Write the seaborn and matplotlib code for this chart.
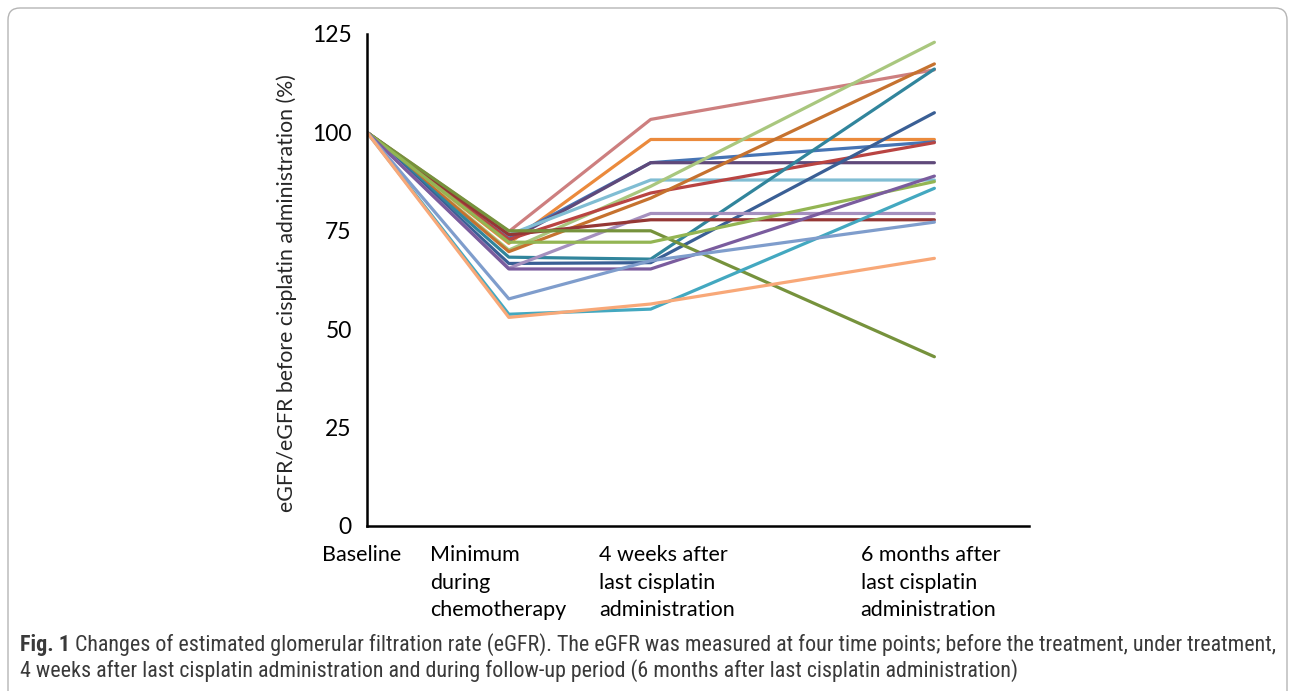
import numpy as np
import pandas as pd
import matplotlib
matplotlib.use('Agg')
import matplotlib.pyplot as plt
import seaborn as sns
from matplotlib import font_manager
from matplotlib.patches import FancyBboxPatch
from matplotlib.transforms import IdentityTransform, ScaledTranslation

# time points - 6 months point sits further right, like in the paper figure
time_labels = ['Baseline',
               'Minimum\nduring\nchemotherapy',
               '4 weeks after\nlast cisplatin\nadministration',
               '6 months after\nlast cisplatin\nadministration']
x_pos = [0, 1, 2, 4]

patients = ['P1', 'P2', 'P3', 'P4', 'P5', 'P6', 'P7', 'P8', 'P9',
            'P10', 'P11', 'P12', 'P13', 'P14', 'P15', 'P16', 'P17', 'P18']

# eGFR / eGFR before cisplatin (%)
baseline   = [100, 100, 100, 100, 100, 100, 100, 100, 100,
              100, 100, 100, 100, 100, 100, 100, 100, 100]
minimum    = [74.8, 71.8, 73.1, 72.5, 74.0, 70.1, 72.8, 69.7, 68.3,
              66.7, 65.5, 74.0, 75.0, 72.1, 65.3, 53.8, 57.7, 53.0]
four_weeks = [103.3, 98.2, 92.3, 92.3, 87.9, 86.3, 84.6, 83.3, 67.8,
              66.9, 79.4, 77.8, 75.0, 72.1, 65.3, 55.1, 67.4, 56.4]
six_months = [115.9, 98.2, 97.6, 92.3, 87.9, 122.9, 97.4, 117.4, 116.1,
              105.0, 79.4, 77.8, 43.0, 87.5, 88.9, 85.8, 77.2, 68.0]

line_colors = ['#CD7F7F', '#EB8A3C', '#4674B4', '#5F497A', '#80BDD3', '#A9C77E',
               '#B94442', '#C6722F', '#31859C', '#3A5F95', '#A590BE', '#953735',
               '#76923C', '#93B553', '#7A5C9E', '#43A8C0', '#7F9DCC', '#F8A878']

# long format for seaborn
rows = []
for i, p in enumerate(patients):
    for x, v in zip(x_pos, [baseline[i], minimum[i], four_weeks[i], six_months[i]]):
        rows.append({'patient': p, 'x': x, 'egfr': v})
df = pd.DataFrame(rows)

sns.set_style('white')
plt.rcParams['font.family'] = ['Lato', 'DejaVu Sans']

fig = plt.figure(figsize=(12.9, 6.91), dpi=100)
ax = fig.add_axes([0.2845, 0.2388, 0.5135, 0.712])

sns.lineplot(data=df, x='x', y='egfr', hue='patient', palette=line_colors,
             estimator=None, sort=False, legend=False, linewidth=2.3, ax=ax)

ax.set_xlim(0, 4.67)
ax.set_ylim(0, 125)
ax.set_yticks([0, 25, 50, 75, 100, 125])
ax.set_xticks(x_pos, time_labels)
ax.set_xlabel('')
ax.set_ylabel('eGFR/eGFR before cisplatin administration (%)', fontsize=15.3)
ax.yaxis.label.set_va('center')
ax.yaxis.set_label_coords(-0.121, 0.474)

for side in ['top', 'right']:
    ax.spines[side].set_visible(False)
for side in ['left', 'bottom']:
    ax.spines[side].set_color('black')
    ax.spines[side].set_linewidth(1.8)
ax.tick_params(axis='both', direction='out', length=5, width=1.8, color='black',
               labelcolor='black')
ax.tick_params(axis='x', pad=9, labelsize=15.5)
ax.tick_params(axis='y', pad=6, labelsize=16.5)

# excel wraps the category labels a bit off-centre, nudge them (px)
nudge = [-5, -11, 16, -4]
for t, dx in zip(ax.get_xticklabels(), nudge):
    t.set_multialignment('left')
    t.set_linespacing(1.45)
    t.set_transform(t.get_transform() + ScaledTranslation(dx / 100, 0, fig.dpi_scale_trans))

# caption below the chart, narrow font squeezed to the same width as the paper
names = {f.name for f in font_manager.fontManager.ttflist}
cap_font = 'DejaVu Sans'
for cand in ['Liberation Sans Narrow', 'Roboto Condensed', 'Open Sans Condensed', 'Roboto']:
    if cand in names:
        cap_font = cand
        break
cap_col = '#3a3a3a'
line1 = ('Changes of estimated glomerular filtration rate (eGFR). The eGFR was measured at four '
         'time points; before the treatment, under treatment,')
line2 = ('4 weeks after last cisplatin administration and during follow-up period '
         '(6 months after last cisplatin administration)')

cap_size = 17
renderer = fig.canvas.get_renderer()
while True:
    bold = fig.text(20 / 1290, 1 - 645 / 691, 'Fig. 1', fontsize=cap_size, fontweight='bold',
                    family=cap_font, color=cap_col, va='center', ha='left')
    bb = bold.get_window_extent(renderer)
    rest = fig.text((bb.x1 + 5) / 1290, 1 - 645 / 691, line1, fontsize=cap_size,
                    family=cap_font, color=cap_col, va='center', ha='left')
    if rest.get_window_extent(renderer).x1 <= 1278 or cap_size < 8:
        break
    bold.remove()
    rest.remove()
    cap_size -= 0.2
fig.text(20 / 1290, 1 - 671 / 691, line2, fontsize=cap_size, family=cap_font,
         color=cap_col, va='center', ha='left')

# rounded frame around the whole figure
frame = FancyBboxPatch((8, -20), 1279, 703, boxstyle='round,pad=0,rounding_size=12',
                       transform=IdentityTransform(), fill=False, ec='#b5b5b5', lw=1)
fig.patches.append(frame)

fig.savefig('out.png', dpi=100)
